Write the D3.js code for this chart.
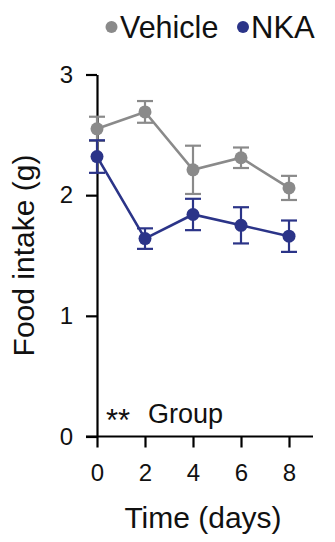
<!DOCTYPE html>
<html>
<head>
<meta charset="utf-8">
<script src="https://cdn.jsdelivr.net/npm/d3@7"></script>
<style>
  html, body { margin: 0; padding: 0; background: #fff; }
  svg { display: block; font-family: "Liberation Sans", Arial, Helvetica, sans-serif; }
</style>
</head>
<body>
<svg id="chart" width="335" height="542"></svg>
<script>
// Food intake over time, mean ± SEM
const days = [0, 2, 4, 6, 8];
const vehicleMean = [2.55, 2.69, 2.21, 2.31, 2.06];
const vehicleErr  = [0.10, 0.09, 0.20, 0.085, 0.10];
const nkaMean     = [2.32, 1.64, 1.84, 1.75, 1.66];
const nkaErr      = [0.135, 0.085, 0.13, 0.15, 0.13];
const yTicks = [0, 1, 2, 3];
const xTicks = [0, 2, 4, 6, 8];
const seriesNames = ["Vehicle", "NKA"];
const seriesColors = ["#8a8a8a", "#2b3488"];

const svg = d3.select("#chart");

const x = d3.scaleLinear().domain([0, 9]).range([97, 313]);
const y = d3.scaleLinear().domain([0, 3]).range([436.5, 74.5]);

// axes
const xAxis = svg.append("g")
  .attr("transform", `translate(0,${y(0)})`)
  .call(d3.axisBottom(x).tickValues(xTicks).tickFormat(d3.format("d"))
    .tickSize(11).tickSizeOuter(0).tickPadding(16));
xAxis.select(".domain").attr("d", `M${x(0) - 11},0H${x(9)}`);

const yAxis = svg.append("g")
  .attr("transform", `translate(${x(0)},0)`)
  .call(d3.axisLeft(y).tickValues(yTicks).tickFormat(d3.format("d"))
    .tickSize(11).tickSizeOuter(0).tickPadding(13));

[xAxis, yAxis].forEach(g => {
  g.select(".domain").attr("stroke", "#000").attr("stroke-width", 2.2);
  g.selectAll(".tick line").attr("stroke", "#000").attr("stroke-width", 2.2);
  g.selectAll(".tick text")
    .attr("fill", "#111")
    .style("font-size", "24px")
    .style("font-family", "'Liberation Sans', Arial, sans-serif");
});

// axis titles
svg.append("text")
  .attr("x", 203)
  .attr("y", 528)
  .attr("text-anchor", "middle")
  .attr("fill", "#111")
  .style("font-size", "30px")
  .text("Time (days)");

svg.append("text")
  .attr("transform", `translate(34,${(y(0) + y(3)) / 2}) rotate(-90)`)
  .attr("text-anchor", "middle")
  .attr("fill", "#111")
  .style("font-size", "30px")
  .text("Food intake (g)");

// series
const series = [
  { name: seriesNames[0], color: seriesColors[0], mean: vehicleMean, err: vehicleErr },
  { name: seriesNames[1], color: seriesColors[1], mean: nkaMean, err: nkaErr }
];

const line = d3.line().x(d => x(d.day)).y(d => y(d.mean));

series.forEach(s => {
  const pts = days.map((d, i) => ({ day: d, mean: s.mean[i], err: s.err[i] }));
  const g = svg.append("g");

  g.append("path")
    .datum(pts)
    .attr("d", line)
    .attr("fill", "none")
    .attr("stroke", s.color)
    .attr("stroke-width", 2.6);

  const eb = g.selectAll(".eb").data(pts).enter().append("g")
    .attr("stroke", s.color).attr("stroke-width", 2.2);
  eb.append("line")
    .attr("x1", d => x(d.day)).attr("x2", d => x(d.day))
    .attr("y1", d => y(d.mean + d.err)).attr("y2", d => y(d.mean - d.err));
  eb.append("line")
    .attr("x1", d => x(d.day) - 8).attr("x2", d => x(d.day) + 8)
    .attr("y1", d => y(d.mean + d.err)).attr("y2", d => y(d.mean + d.err));
  eb.append("line")
    .attr("x1", d => x(d.day) - 8).attr("x2", d => x(d.day) + 8)
    .attr("y1", d => y(d.mean - d.err)).attr("y2", d => y(d.mean - d.err));

  g.selectAll("circle").data(pts).enter().append("circle")
    .attr("cx", d => x(d.day))
    .attr("cy", d => y(d.mean))
    .attr("r", 6.5)
    .attr("fill", s.color);
});

// legend
const legend = svg.append("g").attr("transform", "translate(0,27)");
legend.append("circle").attr("cx", 111.5).attr("cy", 0).attr("r", 6).attr("fill", seriesColors[0]);
legend.append("text").attr("x", 120).attr("y", 11).attr("fill", "#111")
  .style("font-size", "30.5px").text(seriesNames[0]);
legend.append("circle").attr("cx", 243).attr("cy", 0).attr("r", 6).attr("fill", seriesColors[1]);
legend.append("text").attr("x", 251).attr("y", 11).attr("fill", "#111")
  .style("font-size", "31px").text(seriesNames[1]);

// statistics annotation
svg.append("text")
  .attr("x", 106).attr("y", 431)
  .attr("fill", "#111")
  .style("font-size", "31px")
  .text("**");
svg.append("text")
  .attr("x", 148).attr("y", 423)
  .attr("fill", "#111")
  .style("font-size", "27px")
  .text("Group");
</script>
</body>
</html>
